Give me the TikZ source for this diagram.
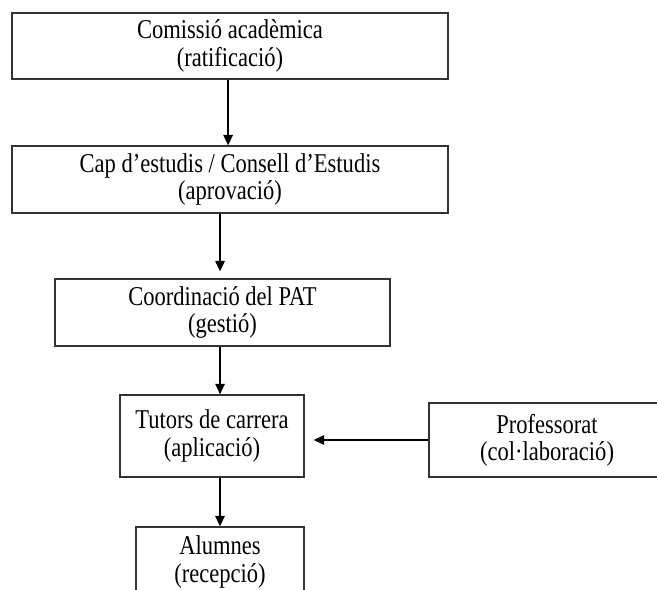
\documentclass[tikz,border=0pt]{standalone}
\usepackage{fontspec}
\setmainfont{Liberation Serif}[FakeStretch=0.83]
\usetikzlibrary{arrows.meta}

\begin{document}
\begin{tikzpicture}[x=0.53pt, y=-0.53pt, line width=0.7pt,
    box/.style={draw=black!80, rectangle, align=center, inner sep=0pt, font=\fontsize{14.4}{14.4}\selectfont},
    arr/.style={-{Triangle[length=5.5pt, width=5pt]}, draw=black}]
    \useasboundingbox (0, 0) rectangle (657, 590);
    \clip (0, 0) rectangle (657, 590);

    % draw boxes
    \node[box, minimum width=231.1pt, minimum height=35pt] (com) at (230, 46) {Comissió acadèmica\\(ratificació)};
    \node[box, minimum width=231.1pt, minimum height=35.5pt] (cap) at (230, 179.5) {Cap d’estudis / Consell d’Estudis\\(aprovació)};
    \node[box, minimum width=177.6pt, minimum height=35.5pt] (coord) at (222.5, 312.5) {Coordinació del PAT\\(gestió)};
    \node[box, minimum width=97.5pt, minimum height=43.5pt] (tutors) at (212, 436) {Tutors de carrera\\(aplicació)};
    \node[box, minimum width=125pt, minimum height=39.2pt] (prof) at (547, 440) {Professorat\\(col·laboració)};
    \node[box, minimum width=89pt, minimum height=37.1pt] (alum) at (220, 562) {Alumnes\\(recepció)};

    % draw arrows
    \draw[arr] ([xshift=-1pt]com.south) -- ([xshift=-1pt]cap.north);
    \draw[arr] ([xshift=-1.3pt]coord.north |- cap.south) -- ([xshift=-1.3pt, yshift=3.7pt]coord.north);
    \draw[arr] ([xshift=-1.3pt]coord.south) -- ([xshift=-1.3pt]coord.south |- tutors.north);
    \draw[arr] (alum.north |- tutors.south) -- (alum.north);
    \draw[arr] (prof.west) -- ([xshift=4.8pt]tutors.east |- prof.west);
\end{tikzpicture}
\end{document}
